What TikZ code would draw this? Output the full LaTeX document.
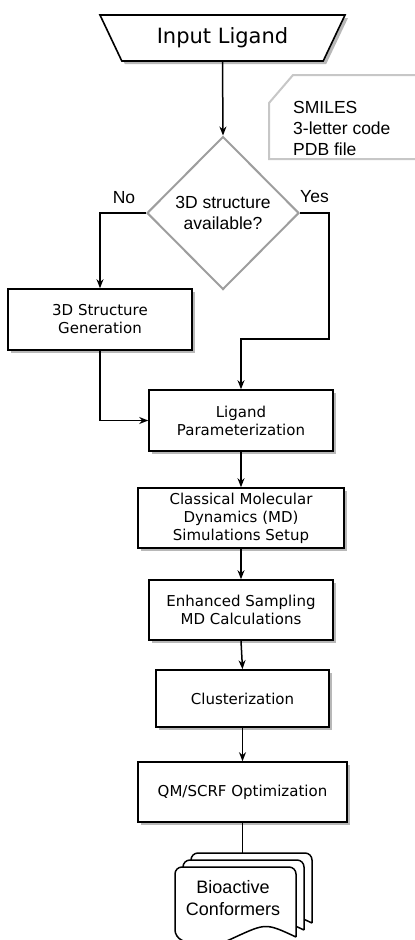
\documentclass[tikz,border=0pt]{standalone}
\usepackage{fontspec}
\setmainfont{DejaVu Sans}
\newfontfamily\helvfont{Liberation Sans}
\usetikzlibrary{shapes.geometric,arrows.meta,shadows}

\tikzset{
  boxshadow/.style={drop shadow={shadow xshift=3pt,shadow yshift=-3pt,fill=black!28,opacity=1}},
  procbox/.style={draw, line width=1.6pt, fill=white, align=center, inner sep=2pt,
    font=\fontsize{15}{18}\selectfont, boxshadow},
  flow/.style={line width=1.5pt, -{Stealth[length=9pt,width=7pt]}},
  plainline/.style={line width=1.5pt},
  docline/.style={line width=1.5pt, fill=white},
  cardline/.style={draw=black!22, line width=2pt},
  helvtext/.style={font=\helvfont\fontsize{17.5}{21}\selectfont, inner sep=0pt},
}

% one sheet of the stacked documents: left x, top y
\newcommand{\docsheet}[2]{%
  \draw[docline] (#1+121,#2+70) [rounded corners=7pt] -- (#1+121,#2) -- (#1,#2) -- (#1,#2+70) [sharp corners]
    .. controls (#1+30,#2+84) .. (#1+60.5,#2+70) .. controls (#1+91,#2+56) .. (#1+121,#2+70);}

\begin{document}
\begin{tikzpicture}[x=1pt,y=-1pt]
\useasboundingbox (0,0) rectangle (415,940);

% input and its formats
\node[trapezium, shape border rotate=180, trapezium left angle=43, trapezium right angle=43,
  trapezium stretches body, minimum width=245pt, minimum height=46pt, draw, line width=1.6pt,
  fill=white, inner sep=0pt, font=\fontsize{21}{24}\selectfont, boxshadow] (input) at (222.5,38) {Input Ligand};
\draw[cardline] (417,75) -- (293,75) -- (269,103) -- (269,159) -- (417,159);
\node[helvtext, anchor=west, align=left] (formats) at (293,128) {SMILES\\3-letter code\\PDB file};

% decision
\node[diamond, aspect=1, draw=black!38, line width=2pt, fill=white, minimum width=152pt, minimum height=153pt,
  inner sep=0pt, align=center, font=\helvfont\fontsize{17.5}{21}\selectfont] (avail) at (223,213) {3D structure\\available?};
\node[helvtext] (no) at (124,198) {No};
\node[helvtext] (yes) at (314.5,197) {Yes};

% process steps
\node[procbox, minimum width=184pt, minimum height=61pt] (gen) at (100,319.5) {3D Structure\\Generation};
\node[procbox, minimum width=184pt, minimum height=61pt] (param) at (241,420.5) {Ligand\\Parameterization};
\node[procbox, minimum width=206pt, minimum height=60pt] (md) at (241,518) {Classical Molecular\\Dynamics (MD)\\Simulations Setup};
\node[procbox, minimum width=184pt, minimum height=60pt] (enh) at (241,610) {Enhanced Sampling\\MD Calculations};
\node[procbox, minimum width=173pt, minimum height=57pt] (clu) at (242.5,698.5) {Clusterization};
\node[procbox, minimum width=209pt, minimum height=60pt] (qm) at (242.5,792) {QM/SCRF Optimization};

% output documents
\docsheet{191}{853}
\docsheet{183}{860}
\docsheet{175}{867}
\node[helvtext, font=\helvfont\fontsize{18}{21.5}\selectfont, align=center] (conf) at (233,898) {Bioactive\\Conformers};

% connectors
\coordinate (yesA) at (329,213);
\coordinate (yesB) at (329,339);
\coordinate (doctop) at (242.5,853);
\draw[flow] (input.south) -- (avail.north);
\draw[flow] (avail.west) -| (gen.north);
\draw[flow] (avail.east) -- (yesA) -- (yesB) -| (param.north);
\draw[flow] (gen.south) |- (param.west);
\draw[flow] (param.south) -- (md.north);
\draw[flow] (md.south) -- (enh.north);
\draw[flow] (enh.south) -- (clu.north);
\draw[flow] (clu.south) -- (qm.north);
\draw[plainline] (qm.south) -- (doctop);
\end{tikzpicture}
\end{document}
